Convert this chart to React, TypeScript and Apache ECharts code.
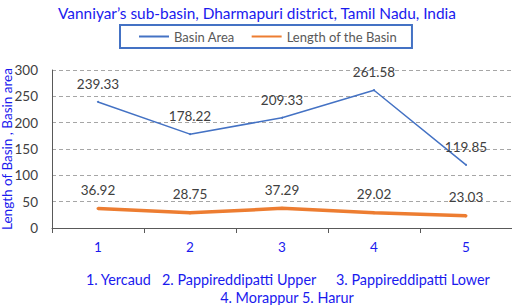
import React, { useEffect, useRef } from "react";
import * as echarts from "echarts";

const categories = ["1", "2", "3", "4", "5"];
const basinArea = [239.33, 178.22, 209.33, 261.58, 119.85];
const basinLength = [36.92, 28.75, 37.29, 29.02, 23.03];
const titleText = "Vanniyar\u2019s sub-basin, Dharmapuri district, Tamil Nadu, India";
const footItems = ["1. Yercaud", "2. Pappireddipatti Upper", "3. Pappireddipatti Lower"];
const footLine2 = "4. Morappur 5. Harur";
const yAxisName = "Length of Basin , Basin area";

const FONT = "Lato, 'Open Sans', sans-serif";
const BLUE_TEXT = "#1a1aee";

export default function App() {
  const ref = useRef<HTMLDivElement>(null);
  useEffect(() => {
    document.body.style.margin = "0";
    const chart = echarts.init(ref.current!, null, { renderer: "svg" });
    const labelCfg = {
      show: true,
      position: "top",
      distance: 10,
      color: "#404040",
      fontSize: 13.5,
      fontFamily: FONT,
      formatter: (p: any) => p.value.toFixed(2),
    };
    const footX = [86, 162, 336];
    chart.setOption({
      animation: false,
      textStyle: { fontFamily: FONT },
      title: {
        text: titleText,
        left: 252,
        textAlign: "center",
        top: 0,
        textStyle: { color: BLUE_TEXT, fontSize: 15.4, fontWeight: "normal", fontFamily: FONT },
      },
      legend: {
        left: 120,
        top: 25,
        padding: [5, 15, 5, 18],
        borderColor: "#4472c4",
        borderWidth: 2,
        itemGap: 16,
        itemWidth: 30,
        itemHeight: 14,
        itemStyle: { opacity: 0 },
        textStyle: { color: "#595959", fontSize: 13, fontFamily: FONT },
        data: ["Basin Area", "Length of the Basin"],
      },
      grid: { left: 52, right: 0, top: 70, bottom: 77, containLabel: false, outerBoundsMode: "none" },
      xAxis: {
        type: "category",
        data: categories,
        boundaryGap: true,
        axisLine: { lineStyle: { color: "#595959", width: 1 } },
        axisTick: { show: true, lineStyle: { color: "#595959" }, length: 5 },
        axisLabel: { color: BLUE_TEXT, fontSize: 13.5, margin: 12, fontFamily: FONT },
      },
      yAxis: {
        type: "value",
        min: 0,
        max: 300,
        interval: 50,
        name: yAxisName,
        nameLocation: "middle",
        nameGap: 38,
        nameMoveOverlap: false,
        nameTextStyle: { color: BLUE_TEXT, fontSize: 13.5, fontFamily: FONT },
        axisLine: { show: true, lineStyle: { color: "#595959" } },
        axisTick: { show: false },
        axisLabel: { color: "#404040", fontSize: 13.5, margin: 14, fontFamily: FONT },
        splitLine: { lineStyle: { color: "#a6a6a6", type: [4, 3], width: 1 } },
      },
      series: [
        {
          name: "Basin Area",
          type: "line",
          data: basinArea,
          symbol: "circle",
          showSymbol: true,
          symbolSize: 2,
          lineStyle: { color: "#4472c4", width: 1.5 },
          itemStyle: { color: "#4472c4" },
          label: labelCfg,
        },
        {
          name: "Length of the Basin",
          type: "line",
          data: basinLength,
          symbol: "circle",
          showSymbol: true,
          symbolSize: 3,
          lineStyle: { color: "#ed7d31", width: 3.5 },
          itemStyle: { color: "#ed7d31" },
          label: labelCfg,
        },
      ],
      graphic: [
        ...footItems.map((t, i) => ({
          type: "text",
          x: footX[i],
          y: 279,
          style: {
            text: t,
            fill: BLUE_TEXT,
            fontSize: 14.4,
            fontFamily: FONT,
            align: "left",
            verticalAlign: "middle",
          },
        })),
        {
          type: "text",
          x: 287,
          y: 297,
          style: {
            text: footLine2,
            fill: BLUE_TEXT,
            fontSize: 14.4,
            fontFamily: FONT,
            align: "center",
            verticalAlign: "middle",
          },
        },
      ],
    });
    return () => chart.dispose();
  }, []);
  return <div ref={ref} style={{ width: 512, height: 305 }} />;
}
